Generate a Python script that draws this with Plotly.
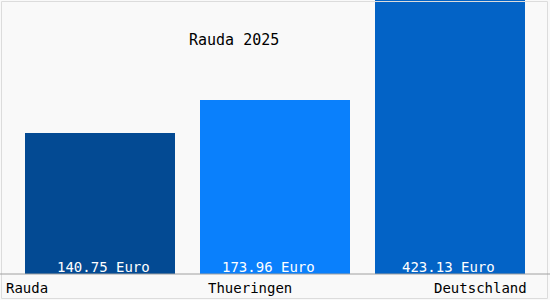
import plotly.graph_objects as go

categories = ["Rauda", "Thueringen", "Deutschland"]
values = [140.75, 173.96, 423.13]
value_labels = ["140.75 Euro", "173.96 Euro", "423.13 Euro"]
colors = ["#034a93", "#0a80fc", "#0363c6"]
title_text = "Rauda 2025"

FONT = "DejaVu Sans Mono"
xpos = list(range(len(categories)))

fig = go.Figure()
fig.add_trace(go.Bar(
    x=xpos, y=values, width=150/175,
    marker=dict(color=colors, line=dict(width=0)),
    hoverinfo="skip",
))

label_shift = [3, -7, -2]
for i, (lab, s) in enumerate(zip(value_labels, label_shift)):
    fig.add_annotation(x=i, y=0, xref="x", yref="y", text=lab, showarrow=False,
                       yanchor="bottom", yshift=-3, xshift=s,
                       font=dict(family=FONT, size=14, color="white"))

# category labels below axis
cat_anchor = [("left", 4/550), ("center", 250/550), ("right", 529/550)]
for lab, (anc, px) in zip(categories, cat_anchor):
    fig.add_annotation(x=px, y=12/300, xref="paper", yref="paper", text=lab,
                       showarrow=False, xanchor=anc, yanchor="middle",
                       font=dict(family=FONT, size=14, color="black"))

fig.add_annotation(x=234/550, y=1 - 40/300, xref="paper", yref="paper", text=title_text,
                   showarrow=False, xanchor="center", yanchor="middle",
                   font=dict(family=FONT, size=15, color="black"))

# frame and axis line
fig.add_shape(type="rect", xref="paper", yref="paper", x0=1.5/550, x1=547.5/550,
              y0=1.5/300, y1=1 - 1.5/300, line=dict(color="#dcdcdc", width=1))
fig.add_shape(type="line", xref="paper", yref="paper", x0=0, x1=1,
              y0=26/300, y1=26/300, line=dict(color="#a0a0a0", width=1))

fig.update_layout(
    width=550, height=300,
    margin=dict(l=0, r=0, t=0, b=0),
    paper_bgcolor="#f9f9f9", plot_bgcolor="#f9f9f9",
    showlegend=False,
    xaxis=dict(range=[-100/175, 2 + 100/175], visible=False, fixedrange=True),
    yaxis=dict(range=[0, 274], domain=[26/300, 1], visible=False, fixedrange=True),
    bargap=0,
)

fig.write_html("out.html", config={"displayModeBar": False})
